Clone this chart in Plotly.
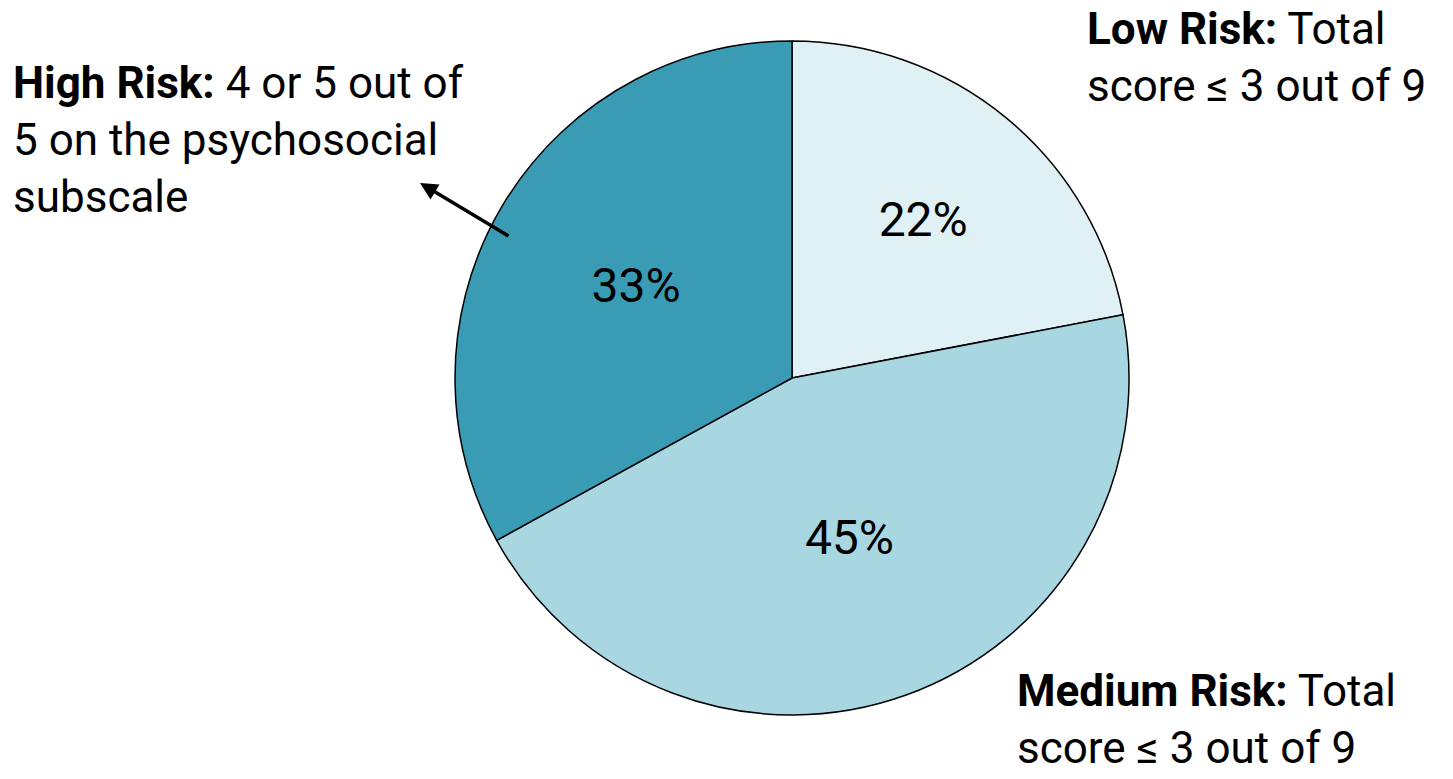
import plotly.graph_objects as go

categories = ["Low Risk", "Medium Risk", "High Risk"]
values = [22, 45, 33]
pct_labels = ["22%", "45%", "33%"]
colors = ["#E0F1F5", "#A8D7E2", "#3A9BB4"]

notes = {
    "Low Risk": "<b>Low Risk:</b> Total<br>score \u2264 3 out of 9",
    "Medium Risk": "<b>Medium Risk:</b> Total<br>score \u2264 3 out of 9",
    "High Risk": "<b>High Risk:</b> 4 or 5 out of<br>5 on the psychosocial<br>subscale",
}

W, H = 1453, 779
FONT = "Roboto, Arial, sans-serif"

fig = go.Figure(go.Pie(
    labels=categories,
    values=values,
    text=pct_labels,
    textinfo="text",
    textposition="inside",
    insidetextorientation="horizontal",
    insidetextfont=dict(family=FONT, size=48, color="black"),
    marker=dict(colors=colors, line=dict(color="black", width=1.5)),
    sort=False,
    direction="clockwise",
    rotation=0,
    hoverinfo="label+percent",
    domain=dict(x=[455 / W, 1129 / W], y=[64 / H, 738 / H]),
))

def px(x, y):
    return x / W, 1 - y / H

annots = []
for name, (x0, y0) in zip(["High Risk", "Low Risk", "Medium Risk"],
                          [(12, 56), (1086, 2), (1016, 664)]):
    xx, yy = px(x0, y0)
    annots.append(dict(
        x=xx, y=yy, xref="paper", yref="paper", xanchor="left", yanchor="top",
        text=notes[name], showarrow=False, align="left", borderpad=0,
        font=dict(family=FONT, size=44, color="black"),
    ))

hx, hy = px(420, 183)
annots.append(dict(
    x=hx, y=hy, xref="paper", yref="paper", text="", showarrow=True,
    ax=90, ay=54, arrowhead=2, arrowsize=1, arrowwidth=3.5, arrowcolor="black",
))

fig.update_layout(
    width=W, height=H,
    margin=dict(l=0, r=0, t=0, b=0),
    paper_bgcolor="white",
    plot_bgcolor="white",
    showlegend=False,
    annotations=annots,
)

fig.write_html("out.html")
